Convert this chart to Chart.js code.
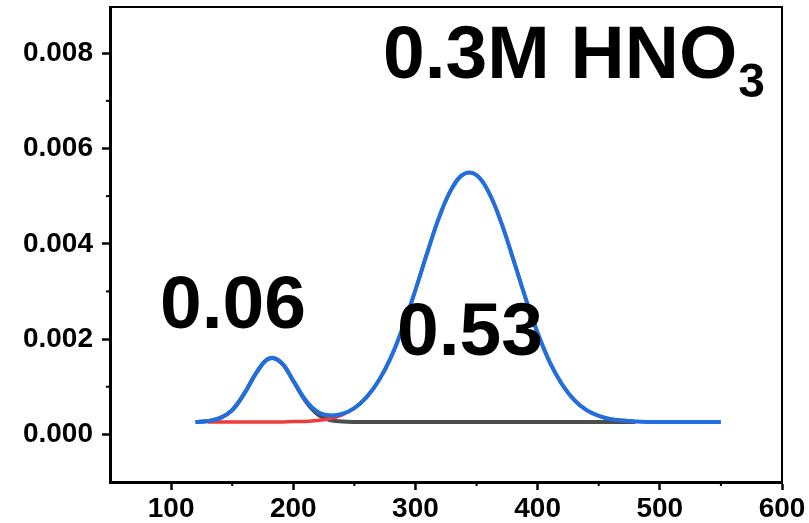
<!DOCTYPE html>
<html>
<head>
<meta charset="utf-8">
<script src="https://cdn.jsdelivr.net/npm/chart.js@4"></script>
<style>
  html, body { margin: 0; padding: 0; background: #fff; }
  #wrap { width: 809px; height: 523px; position: relative; }
</style>
</head>
<body>
<div id="wrap"><canvas id="peakChart"></canvas></div>
<script>
// x grid (sampled every 10 units)
const xValues = [120,130,140,150,160,170,180,190,200,210,220,230,240,250,260,270,280,290,300,310,320,330,340,350,360,370,380,390,400,410,420,430,440,450,460,470,480,490,500,510,520,530,540,550];

// cumulative fit (blue)
const fitValues = [0.00026,0.00028,0.00034,0.00051,0.00086,0.00130,0.00159,0.00151,0.00113,0.00072,0.00047,0.00040,0.00043,0.00055,0.00078,0.00113,0.00162,0.00227,0.00303,0.00384,0.00460,0.00517,0.00547,0.00544,0.00508,0.00446,0.00368,0.00287,0.00213,0.00151,0.00105,0.00072,0.00051,0.00039,0.00032,0.00029,0.00027,0.00026,0.00026,0.00026,0.00026,0.00026,0.00026,0.00026];

// second peak component (red)
const peak2Values = [null,0.00026,0.00026,0.00026,0.00026,0.00026,0.00026,0.00026,0.00027,0.00027,0.00029,0.00033,0.00041,0.00055,0.00078,0.00113,0.00162,0.00227,0.00303,0.00384,0.00460,0.00517,0.00547,0.00544,0.00508,0.00446,0.00368,0.00287,0.00213,0.00151,0.00105,0.00072,0.00051,0.00039,0.00032,0.00029,0.00027,null,null,null,null,null,null,null];

// first peak component (grey)
const peak1Values = [0.00026,0.00028,0.00034,0.00051,0.00086,0.00130,0.00159,0.00151,0.00112,0.00070,0.00042,0.00030,0.00027,0.00026,0.00026,0.00026,0.00026,0.00026,0.00026,0.00026,0.00026,0.00026,0.00026,0.00026,0.00026,0.00026,0.00026,0.00026,0.00026,0.00026,0.00026,0.00026,0.00026,0.00026,0.00026,0.00026,0.00026,null,null,null,null,null,null,null];

const xMinorTicks = [150,250,350,450,550];
const yMinorTicks = [0.001,0.003,0.005,0.007];

const labelTitle = "0.3M HNO";
const labelSub = "3";
const labelPeak1 = "0.06";
const labelPeak2 = "0.53";

const toPoints = arr => xValues.map((x, i) => ({x: x, y: arr[i]}));

const FONT = '"Liberation Sans", Arial, Helvetica, sans-serif';

// frame, minor ticks and big labels
const extras = {
  id: 'extras',
  afterDraw(chart) {
    const {ctx, chartArea: a} = chart;
    const xs = chart.scales.x, ys = chart.scales.y;
    ctx.save();
    ctx.strokeStyle = '#000';
    ctx.lineWidth = 2;
    ctx.beginPath();
    ctx.moveTo(a.left, a.top);
    ctx.lineTo(a.right, a.top);
    ctx.lineTo(a.right, a.bottom);
    ctx.stroke();

    ctx.lineWidth = 2;
    xMinorTicks.forEach(v => {
      const px = xs.getPixelForValue(v);
      ctx.beginPath();
      ctx.moveTo(px, a.bottom);
      ctx.lineTo(px, a.bottom + 4);
      ctx.stroke();
    });
    yMinorTicks.forEach(v => {
      const py = ys.getPixelForValue(v);
      ctx.beginPath();
      ctx.moveTo(a.left, py);
      ctx.lineTo(a.left - 4, py);
      ctx.stroke();
    });

    ctx.fillStyle = '#000';
    ctx.textAlign = 'left';
    ctx.textBaseline = 'alphabetic';
    ctx.font = 'bold 75px ' + FONT;
    ctx.fillText(labelTitle, 383, 78);
    const w = ctx.measureText(labelTitle).width;
    ctx.font = 'bold 48px ' + FONT;
    ctx.fillText(labelSub, 383 + w + 1, 97);
    ctx.font = 'bold 75px ' + FONT;
    ctx.fillText(labelPeak1, 160, 328);
    ctx.fillText(labelPeak2, 397, 355);
    ctx.restore();
  }
};

new Chart(document.getElementById('peakChart'), {
  type: 'line',
  data: {
    datasets: [
      {data: toPoints(fitValues), borderColor: '#1f6fe0', borderWidth: 4, pointRadius: 0, tension: 0.4, fill: false},
      {data: toPoints(peak2Values), borderColor: '#ee3b3b', borderWidth: 3.5, pointRadius: 0, tension: 0.4, fill: false},
      {data: toPoints(peak1Values), borderColor: '#4d4d4d', borderWidth: 4, pointRadius: 0, tension: 0.4, fill: false}
    ]
  },
  options: {
    responsive: true,
    maintainAspectRatio: false,
    animation: false,
    layout: {padding: {top: 7, right: 27, bottom: 0, left: 0}},
    plugins: {legend: {display: false}, tooltip: {enabled: false}},
    scales: {
      x: {
        type: 'linear',
        min: 50,
        max: 600,
        border: {display: true, color: '#000', width: 3},
        grid: {drawOnChartArea: false, drawTicks: true, tickLength: 8, tickWidth: 2.5, tickColor: '#000'},
        ticks: {
          stepSize: 100, includeBounds: false, autoSkip: false, maxRotation: 0,
          color: '#000', padding: 2,
          font: {family: FONT, size: 28, weight: 'bold'},
          callback: v => String(v)
        },
        afterFit: s => { s.height = 41; s.paddingLeft = 0; s.paddingRight = 0; }
      },
      y: {
        min: -0.001,
        max: 0.00897,
        border: {display: true, color: '#000', width: 3},
        grid: {drawOnChartArea: false, drawTicks: true, tickLength: 8, tickWidth: 2.5, tickColor: '#000'},
        ticks: {
          stepSize: 0.002, includeBounds: false, autoSkip: false,
          color: '#000', padding: 9,
          font: {family: FONT, size: 28, weight: 'bold'},
          callback: v => Number(v).toFixed(3)
        },
        afterFit: s => { s.width = 110; s.paddingTop = 0; s.paddingBottom = 0; }
      }
    }
  },
  plugins: [extras]
});
</script>
</body>
</html>
